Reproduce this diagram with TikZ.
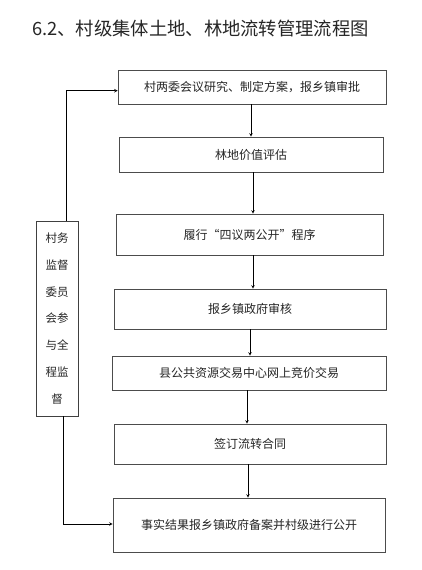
\documentclass[tikz,border=0pt]{standalone}
\usepackage{fontspec}
\setmainfont{Noto Sans CJK SC}
\usepackage{tikz}
\usetikzlibrary{shapes,arrows,positioning,calc}
\tikzstyle{stepbox} = [rectangle, draw=black!70, line width=0.6pt, text centered, inner sep=0pt, font=\fontsize{12}{14}\selectfont, text=black!85]
\tikzstyle{sidebox} = [rectangle, draw=black!75, line width=0.6pt, align=center, inner sep=0pt, minimum width=42pt, minimum height=195pt, font=\fontsize{11.5}{26.8}\selectfont, text=black!85]
\tikzstyle{arrow} = [line width=0.6pt,->,>=stealth]

\begin{document}
\begin{tikzpicture}[x=1pt, y=-1pt]
    \useasboundingbox[fill=white] (0,0) rectangle (422,570);
    % title
    \node[anchor=west, font=\fontsize{18.3}{20}\selectfont, text=black!85, inner sep=0pt] (title) at (32,29) {6.2、村级集体土地、林地流转管理流程图};
    % main steps
    \node[stepbox, minimum width=268pt, minimum height=34pt] (b1) at (252,87) {村两委会议研究、制定方案，报乡镇审批};
    \node[stepbox, minimum width=264pt, minimum height=35pt] (b2) at (251,154.5) {林地价值评估};
    \node[stepbox, minimum width=267pt, minimum height=41pt] (b3) at (249.5,234.5) {履行“四议两公开”程序};
    \node[stepbox, minimum width=272pt, minimum height=40pt] (b4) at (250,309) {报乡镇政府审核};
    \node[stepbox, minimum width=274pt, minimum height=34pt] (b5) at (249,373) {县公共资源交易中心网上竞价交易};
    \node[stepbox, minimum width=272pt, minimum height=40pt] (b6) at (250,444) {签订流转合同};
    \node[stepbox, minimum width=272pt, minimum height=54pt] (b7) at (249,525) {事实结果报乡镇政府备案并村级进行公开};
    % supervision
    \node[sidebox] (side) at (57,318.5) {村务\\监督\\委员\\会参\\与全\\程监\\督};
    \coordinate (top) at (66,90.7);
    \coordinate (bot) at (63,524);
    % arrows
    \draw[arrow] (b1.south -| 251,0) -- (b2.north -| 251,0);
    \draw[arrow] (b2.south -| 253,0) -- (b3.north -| 253,0);
    \draw[arrow] (b3.south -| 253,0) -- (b4.north -| 253,0);
    \draw[arrow] (b4.south -| 250,0) -- (b5.north -| 250,0);
    \draw[arrow] (b5.south -| 247,0) -- (b6.north -| 247,0);
    \draw[arrow] (b6.south -| 248,0) -- (b7.north -| 248,0);
    \draw[arrow] (side.north -| top) |- (b1.west |- top);
    \draw[arrow] (side.south -| bot) |- (b7.west |- bot);
\end{tikzpicture}
\end{document}
